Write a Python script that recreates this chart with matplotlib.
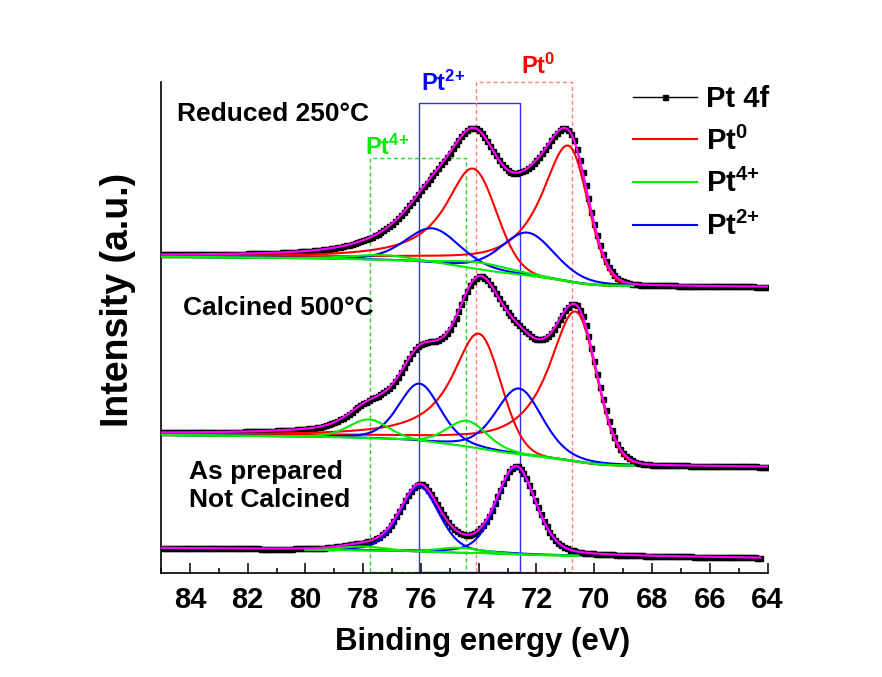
import numpy as np
import matplotlib
matplotlib.use('Agg')
import matplotlib.pyplot as plt
from matplotlib.ticker import MultipleLocator

plt.rcParams['font.family'] = ['Liberation Sans', 'DejaVu Sans']
plt.rcParams['font.weight'] = 'bold'
plt.rcParams['mathtext.fontset'] = 'custom'
plt.rcParams['mathtext.rm'] = 'Liberation Sans:bold'
plt.rcParams['mathtext.bf'] = 'Liberation Sans:bold'
plt.rcParams['mathtext.it'] = 'Liberation Sans:bold'

# three spectra, top to bottom
samples = ['Reduced 250\u00b0C', 'Calcined 500\u00b0C', 'As prepared\nNot Calcined']
label_x = [84.44, 84.24, 84.03]
label_y = [459, 265, 87]

# fitted components: centre (eV), height (a.u.)
pt0_center = [[70.9, 74.2], [70.65, 74.0], []]
pt0_height = [[136, 100], [150, 115], []]
pt0_hw_hi = [[1.15, 1.15], [1.15, 1.12], []]   # lorentzian tail on the high BE side
pt0_hw_lo = [[0.8, 0.95], [0.85, 0.9], []]

pt2_center = [[72.3, 75.6], [72.6, 76.05], [72.7, 76.05]]
pt2_height = [[43, 35], [66, 58], [87, 65]]
pt2_hw = [[1.1, 1.1], [0.95, 0.85], [0.8, 0.8]]

pt4_center = [[73.9, 77.3], [74.4, 77.8], [74.7, 78.0]]
pt4_height = [[7, 5], [26, 19], [5, 4]]
pt4_hw = [1.3, 0.82, 0.9]

# shirley type background
bg_at_64 = [286, 106, 15]
bg_slope = [0.2, 0.25, 0.33]
bg_step = [26, 26.75, 3]
fit_range = [(68.6, 85.0), (68.6, 85.0), (70.5, 80.0)]
data_range = [(64.0, 85.0), (64.0, 85.0), (64.2, 85.0)]

# boxes marking the peak positions
box_names = ['Pt$^{2{+}}$', 'Pt$^{0}$', 'Pt$^{4{+}}$']
box_hi = [76.05, 74.1, 77.78]
box_lo = [72.57, 70.76, 74.45]
box_top = [470, 491.5, 415]
box_text_x = [75.24, 71.94, 77.19]
box_text_y = [490, 507, 426]


def peak(x, c, h, hw_hi, hw_lo, eta_hi, eta_lo):
    hw = np.where(x >= c, hw_hi, hw_lo)
    eta = np.where(x >= c, eta_hi, eta_lo)
    u = (x - c) / hw
    return h * (eta / (1 + u**2) + (1 - eta) * np.exp(-np.log(2) * u**2))


fig = plt.figure(figsize=(8.82, 6.77), dpi=100)
ax = fig.add_axes([161 / 882, 1 - 573 / 677, (767.5 - 161) / 882, (573 - 82) / 677])

x = np.arange(64.0, 85.001, 0.05)
handles = {}
cols = {'r': '#ff0000', 'b': '#0000ff', 'g': '#00ee00'}
order = {'r': 3, 'b': 4, 'g': 5}
for i in range(3):
    comps = []
    for n, (c, h) in enumerate(zip(pt0_center[i], pt0_height[i])):
        comps.append(('r', peak(x, c, h, pt0_hw_hi[i][n], pt0_hw_lo[i][n], 1.0, 0.0)))
    for n, (c, h) in enumerate(zip(pt2_center[i], pt2_height[i])):
        w = pt2_hw[i][n]
        comps.append(('b', peak(x, c, h, w, w, 0.3, 0.3)))
    for c, h in zip(pt4_center[i], pt4_height[i]):
        comps.append(('g', peak(x, c, h, pt4_hw[i], pt4_hw[i], 0.3, 0.3)))
    total = sum(p for _, p in comps)
    shirley = np.cumsum(total) / total.sum()
    bg = bg_at_64[i] + bg_slope[i] * (x - 64) + bg_step[i] * shirley
    env = bg + total

    m = (x >= data_range[i][0]) & (x <= data_range[i][1])
    handles['data'], = ax.plot(x[m][::2], env[m][::2], color='black', lw=1,
                               marker='s', ms=3.6, mec='black', mfc='black', zorder=2)
    f = (x >= fit_range[i][0]) & (x <= fit_range[i][1])
    if i == 2:
        ax.plot(x[f], bg[f], color='black', lw=1, zorder=3)
    for k, p in comps:
        ln, = ax.plot(x[f], (bg + p)[f], color=cols[k], lw=1.5, zorder=order[k])
        handles[k] = ln
    ax.plot(x[m], env[m], color='#ff00ff', lw=1.6, zorder=6)
    ax.text(label_x[i], label_y[i], samples[i], fontsize=19, fontweight='bold',
            ha='left', va='center', linespacing=1.25)

box_cols = ['#3030ff', '#ff8080', '#22dd22']
box_ls = ['-', (0, (3, 2)), (0, (3, 2))]
txt_cols = ['#0000ff', '#ff0000', '#00ee00']
for j in range(3):
    ax.plot([box_hi[j], box_hi[j], box_lo[j], box_lo[j], box_hi[j]],
            [1, box_top[j], box_top[j], 1, 1], color=box_cols[j], lw=1,
            ls=box_ls[j], zorder=1, clip_on=False)
    ax.text(box_text_x[j], box_text_y[j], box_names[j], color=txt_cols[j],
            fontsize=17, ha='center', va='center', clip_on=False)

ax.set_xlim(85, 64)
ax.set_ylim(0, 491)
ax.xaxis.set_major_locator(MultipleLocator(2))
ax.xaxis.set_minor_locator(MultipleLocator(1))
ax.tick_params(axis='x', which='major', direction='in', length=7, width=1.1,
               labelsize=21, pad=9)
ax.tick_params(axis='x', which='minor', direction='in', length=3.5, width=1.1)
ax.set_yticks([])
for s in ['top', 'right']:
    ax.spines[s].set_visible(False)
for s in ['left', 'bottom']:
    ax.spines[s].set_linewidth(1.2)
ax.set_xlabel('Binding energy (eV)', fontsize=22.5, fontweight='bold')
ax.xaxis.set_label_coords((482.5 - 161) / 606.5, (573 - 627) / 491)
ax.set_ylabel('Intensity (a.u.)', fontsize=27, fontweight='bold')
ax.yaxis.set_label_coords((136 - 161) / 606.5, (573 - 300) / 491)

leg = ax.legend([handles['data'], handles['r'], handles['g'], handles['b']],
                ['Pt 4f', 'Pt$^{0}$', 'Pt$^{4{+}}$', 'Pt$^{2{+}}$'],
                loc='upper left', bbox_to_anchor=(633 / 882, 1 - 85 / 677),
                bbox_transform=fig.transFigure, frameon=False, fontsize=21,
                handlelength=2.2, handletextpad=0.3, labelspacing=0.46,
                borderpad=0, borderaxespad=0, numpoints=1)
for t in leg.get_texts():
    t.set_fontweight('bold')

fig.savefig('out.png', dpi=100)
